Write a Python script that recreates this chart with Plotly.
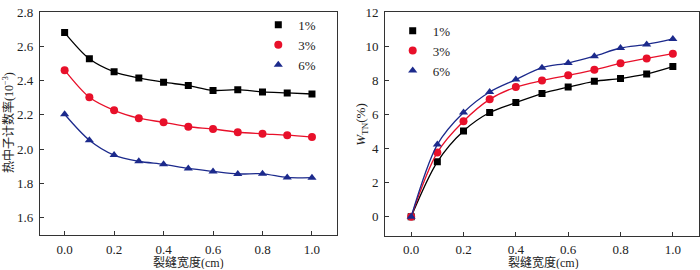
import plotly.graph_objects as go

# ---- data ----
crack_width = [0.0, 0.1, 0.2, 0.3, 0.4, 0.5, 0.6, 0.7, 0.8, 0.9, 1.0]
series_names = ["1%", "3%", "6%"]

# left panel: thermal neutron count rate (10^-3)
rate_1 = [2.680, 2.527, 2.451, 2.416, 2.391, 2.371, 2.343, 2.347, 2.334, 2.328, 2.322]
rate_3 = [2.461, 2.303, 2.227, 2.181, 2.157, 2.131, 2.118, 2.099, 2.090, 2.082, 2.071]
rate_6 = [2.204, 2.053, 1.966, 1.930, 1.912, 1.888, 1.871, 1.856, 1.857, 1.836, 1.834]

# right panel: W_TN (%)
wtn_1 = [0.0, 3.22, 5.03, 6.11, 6.69, 7.22, 7.60, 7.94, 8.10, 8.37, 8.80]
wtn_3 = [0.0, 3.77, 5.60, 6.88, 7.60, 7.98, 8.29, 8.61, 8.99, 9.28, 9.56]
wtn_6 = [0.0, 4.23, 6.11, 7.31, 8.04, 8.74, 9.01, 9.41, 9.89, 10.10, 10.42]

left_yticks = [1.6, 1.8, 2.0, 2.2, 2.4, 2.6, 2.8]
right_yticks = [0, 2, 4, 6, 8, 10, 12]
xticks = [0.0, 0.2, 0.4, 0.6, 0.8, 1.0]

# ---- styles ----
colors = ["#000000", "#e8102a", "#1c2a8c"]
symbols = ["square", "circle", "triangle-up"]
msizes = [7, 8, 8]
FONT = "Liberation Serif, Times New Roman, Noto Sans CJK SC, serif"
TXT = "#222222"

fig = go.Figure()

left = [rate_1, rate_3, rate_6]
right = [wtn_1, wtn_3, wtn_6]

for i in range(3):
    fig.add_trace(go.Scatter(x=crack_width, y=left[i], mode="lines",
                             line=dict(color=colors[i], width=1.3, shape="spline", smoothing=0.9),
                             showlegend=False, xaxis="x", yaxis="y", hoverinfo="skip"))
    fig.add_trace(go.Scatter(x=crack_width, y=left[i], mode="markers", name=series_names[i],
                             marker=dict(color=colors[i], symbol=symbols[i], size=msizes[i]),
                             xaxis="x", yaxis="y", legend="legend"))
for i in range(3):
    fig.add_trace(go.Scatter(x=crack_width, y=right[i], mode="lines",
                             line=dict(color=colors[i], width=1.3, shape="spline", smoothing=0.9),
                             showlegend=False, xaxis="x2", yaxis="y2", hoverinfo="skip"))
    fig.add_trace(go.Scatter(x=crack_width, y=right[i], mode="markers", name=series_names[i],
                             marker=dict(color=colors[i], symbol=symbols[i], size=msizes[i]),
                             xaxis="x2", yaxis="y2", legend="legend2"))

axis_common = dict(showline=True, linecolor="#333333", linewidth=1, mirror=True,
                   ticks="inside", ticklen=4, tickcolor="#333333", showgrid=False,
                   zeroline=False, ticklabeloverflow="allow",
                   tickfont=dict(family=FONT, size=13, color=TXT))

fig.update_layout(
    width=700, height=270,
    margin=dict(l=0, r=0, t=0, b=0),
    plot_bgcolor="white", paper_bgcolor="white",
    font=dict(family=FONT, size=13, color=TXT),
    xaxis=dict(domain=[0.057, 0.481], range=[-0.1, 1.1], tickvals=xticks,
               ticktext=[f"{v:.1f}" for v in xticks], anchor="y",
               ticklabelstandoff=2, **axis_common),
    yaxis=dict(domain=[0.133, 0.981], range=[1.5, 2.8], tickvals=left_yticks,
               ticktext=[f"{v:.1f}" for v in left_yticks], anchor="x",
               ticklabelstandoff=3, **axis_common),
    xaxis2=dict(domain=[0.55, 0.9986], range=[-0.1, 1.1], tickvals=xticks,
                ticktext=[f"{v:.1f}" for v in xticks], anchor="y2",
                ticklabelstandoff=2, **axis_common),
    yaxis2=dict(domain=[0.131, 0.981], range=[-1.1, 12], tickvals=right_yticks,
                anchor="x2", ticklabelstandoff=3, **axis_common),
    legend=dict(x=0.369, y=0.989, xanchor="left", yanchor="top", bgcolor="rgba(0,0,0,0)",
                font=dict(family=FONT, size=13, color=TXT), itemwidth=30,
                tracegroupgap=0),
    legend2=dict(x=0.561, y=0.967, xanchor="left", yanchor="top", bgcolor="rgba(0,0,0,0)",
                 font=dict(family=FONT, size=13, color=TXT), itemwidth=30,
                 tracegroupgap=0),
    annotations=[
        dict(text="热中子计数率(10<sup>−3</sup>)", xref="paper", yref="paper",
             x=0.013, y=0.559, xanchor="center", yanchor="middle", textangle=-90,
             showarrow=False, font=dict(family=FONT, size=12, color=TXT)),
        dict(text="<i>W</i><sub>TN</sub>(%)", xref="paper", yref="paper",
             x=0.517, y=0.552, xanchor="center", yanchor="middle", textangle=-90,
             showarrow=False, font=dict(family=FONT, size=13, color=TXT)),
        dict(text="裂缝宽度(cm)", xref="paper", yref="paper",
             x=0.269, y=0.0, xanchor="center", yanchor="bottom", height=13,
             yshift=-1, showarrow=False, font=dict(family=FONT, size=12, color=TXT)),
        dict(text="裂缝宽度(cm)", xref="paper", yref="paper",
             x=0.776, y=0.0, xanchor="center", yanchor="bottom", height=13,
             yshift=-1, showarrow=False, font=dict(family=FONT, size=12, color=TXT)),
    ],
)

fig.write_html("out.html", config={"displayModeBar": False},
               post_script="document.body.style.margin='0';")
